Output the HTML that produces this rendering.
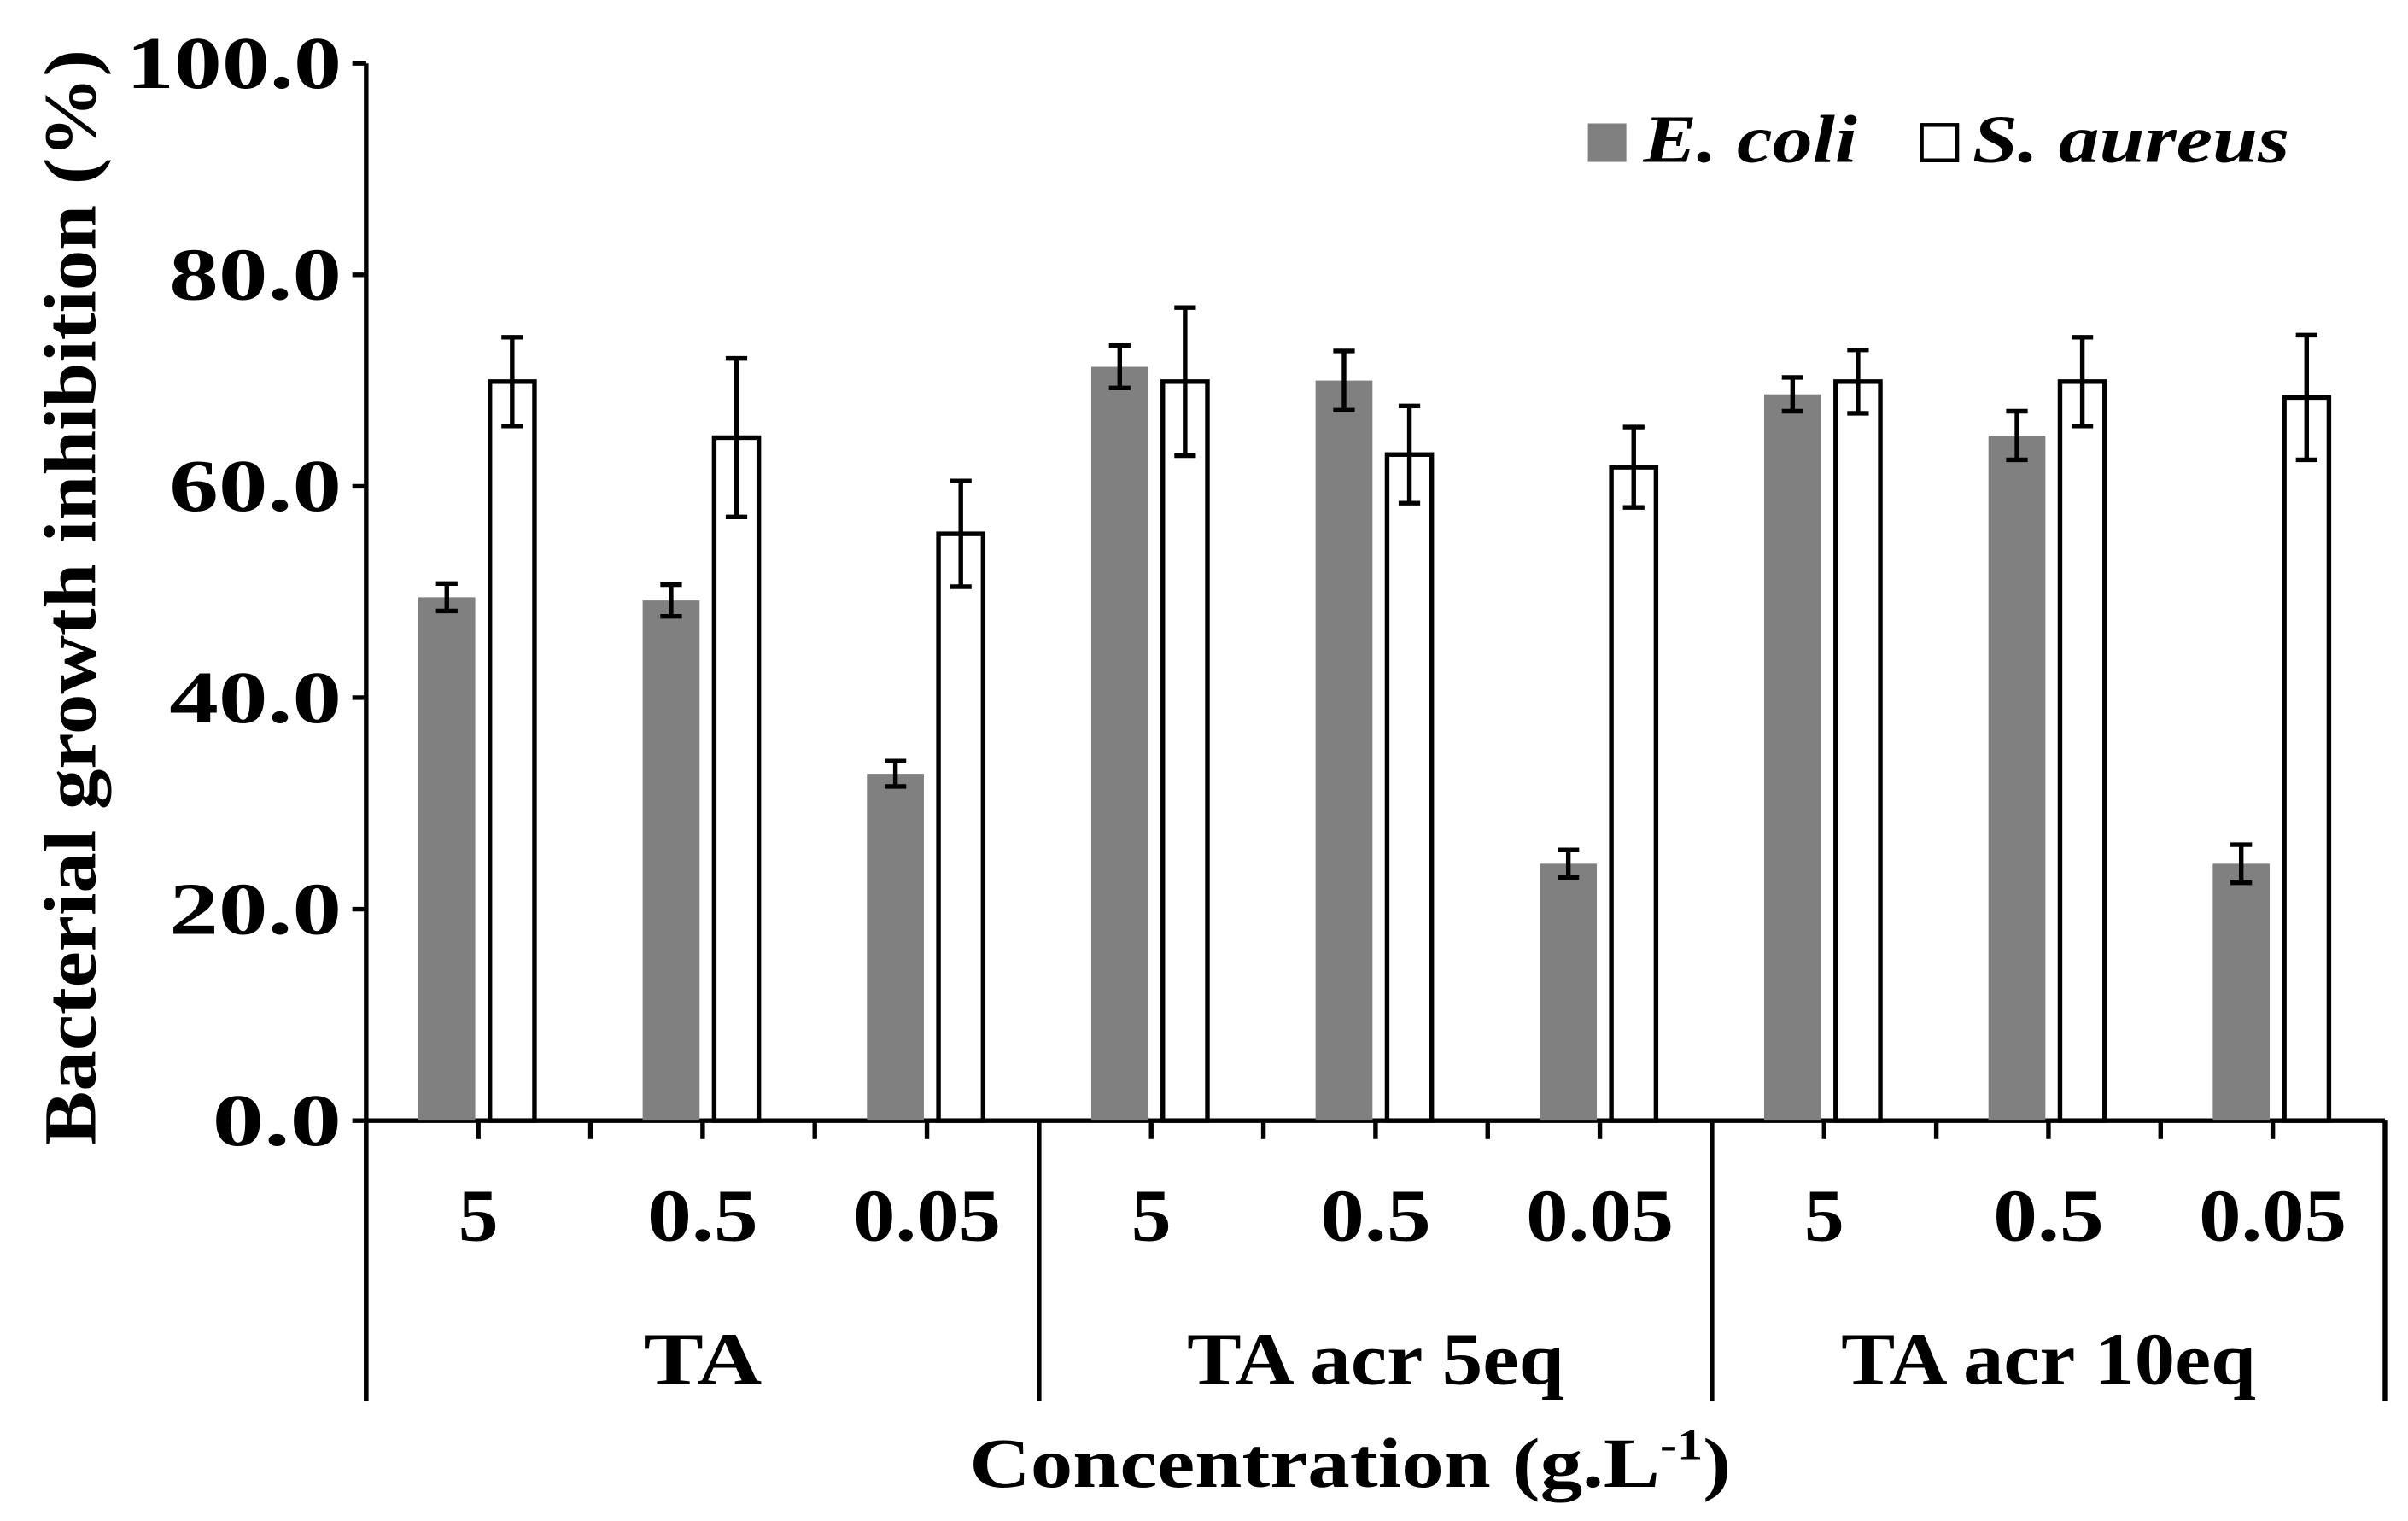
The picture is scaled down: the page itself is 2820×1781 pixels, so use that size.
<!DOCTYPE html>
<html><head><meta charset="utf-8"><style>
html,body{margin:0;padding:0;background:#fff;}
svg{display:block;}
text{font-family:"Liberation Serif",serif;font-weight:bold;fill:#000;}
</style></head><body>
<svg id="chart" width="2820" height="1781" viewBox="0 0 1565 988" xmlns="http://www.w3.org/2000/svg">
<g id="axes"></g>
<g id="bars"></g>
<g id="labels"></g>
<text transform="translate(62,388) rotate(-90)" text-anchor="middle" font-size="48" textLength="712" lengthAdjust="spacingAndGlyphs">Bacterial growth inhibition (%)</text>
<text x="630" y="966" font-size="46" textLength="495" lengthAdjust="spacingAndGlyphs">Concentration (g.L<tspan dy="-18" font-size="28">-1</tspan><tspan dy="18">)</tspan></text>
<g>
<rect x="1032" y="80" width="25" height="25" fill="#808080"/>
<text x="1068" y="105" font-size="44" font-style="italic" textLength="139" lengthAdjust="spacingAndGlyphs">E. coli</text>
<rect x="1249" y="81" width="23" height="23" fill="#fff" stroke="#000" stroke-width="2.5"/>
<text x="1282" y="105" font-size="44" font-style="italic" textLength="206" lengthAdjust="spacingAndGlyphs">S. aureus</text>
</g>
</svg>
<script>
const categories = ["5","0.5","0.05","5","0.5","0.05","5","0.5","0.05"];
const groups = ["TA","TA acr 5eq","TA acr 10eq"];
const ecoli = [49.5,49.2,32.8,71.3,70.0,24.3,68.7,64.8,24.3];
const ecoliErr = [1.3,1.5,1.2,2.0,2.8,1.3,1.6,2.3,1.8];
const saureus = [69.9,64.6,55.5,69.9,63.0,61.8,69.9,69.9,68.4];
const saureusErr = [4.2,7.5,5.0,7.0,4.6,3.8,3.0,4.2,5.9];
const yTicks = [0,20,40,60,80,100];

const NS="http://www.w3.org/2000/svg";
const X0=238, X1=1550, Y0=728, Ytop=41;
const catW=(X1-X0)/categories.length;
function y(v){return Y0-(v/100)*(Y0-Ytop);}
function xc(i){return X0+catW*(i+0.5);}
function mk(parent,tag,attrs){const e=document.createElementNS(NS,tag);for(const k in attrs)e.setAttribute(k,attrs[k]);document.getElementById(parent).appendChild(e);return e;}
function tlen(s){return s.length*24+(s.length>1?0:2);}

let e=mk('axes','line',{x1:X0,y1:Ytop,x2:X0,y2:910,stroke:'#000','stroke-width':3});


e=mk('axes','line',{x1:X0,y1:Y0,x2:X1,y2:Y0,stroke:'#000','stroke-width':3});


yTicks.forEach(t=>{
  const l=mk('axes','line',{x1:X0-9,y1:y(t),x2:X0,y2:y(t),stroke:'#000','stroke-width':3});
  
  
  const s=t.toFixed(1);
  const tx=mk('labels','text',{x:X0-16,y:y(t)+16,'text-anchor':'end','font-size':48,textLength:s.length*28,lengthAdjust:'spacingAndGlyphs'});
  tx.textContent=s;
  
  
});
for(let i=0;i<=categories.length;i++){
  const xx=X0+catW*i;
  const big=(i%3===0);
  const l=mk('axes','line',{x1:xx,y1:Y0,x2:xx,y2:big?910:Y0+12,stroke:'#000','stroke-width':3});
  
  
}
categories.forEach((c,i)=>{
  const l=mk('axes','line',{x1:xc(i),y1:Y0,x2:xc(i),y2:Y0+12,stroke:'#000','stroke-width':3});
  
  
  const t=mk('labels','text',{x:xc(i),y:806,'text-anchor':'middle','font-size':48,textLength:tlen(c),lengthAdjust:'spacingAndGlyphs'});
  t.textContent=c;
  
  
});
groups.forEach((g,i)=>{
  const t=mk('labels','text',{x:X0+catW*(i*3+1.5),y:899,'text-anchor':'middle','font-size':48,textLength:g.length*24.5+(g.length<3?28:0),lengthAdjust:'spacingAndGlyphs'});
  t.textContent=g;
  
  
});
function errbar(cx,v,err,name){
  const g=[[cx,y(v+err),cx,y(v-err)],[cx-7,y(v+err),cx+7,y(v+err)],[cx-7,y(v-err),cx+7,y(v-err)]];
  g.forEach(s=>{
    const l=mk('bars','line',{x1:s[0],y1:s[1],x2:s[2],y2:s[3],stroke:'#000','stroke-width':3});
    
    
  });
}
categories.forEach((c,i)=>{
  const cx=xc(i);
  const r1=mk('bars','rect',{x:cx-39,y:y(ecoli[i]),width:37,height:Y0-y(ecoli[i]),fill:'#808080'});
  
  
  const r2=mk('bars','rect',{x:cx+7.5,y:y(saureus[i]),width:29,height:Y0-y(saureus[i]),fill:'#fff',stroke:'#000','stroke-width':3});
  
  
  errbar(cx-20.5,ecoli[i],ecoliErr[i],'error-bar-ecoli');
  errbar(cx+22,saureus[i],saureusErr[i],'error-bar-saureus');
});
</script>
</body></html>
